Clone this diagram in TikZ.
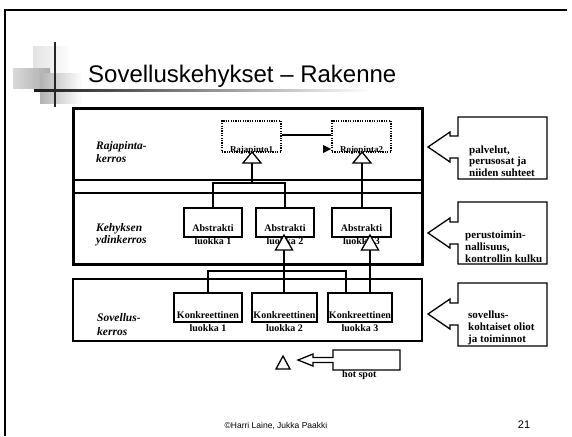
\documentclass[tikz,border=0pt]{standalone}
\usepackage{fontspec}
\setmainfont{Liberation Serif}
\newfontfamily\titlefont{Liberation Sans}
\begin{document}
\begin{tikzpicture}[x=1pt,y=-1pt,
  cls/.style={draw, line width=1.3pt, inner sep=0},
  iface/.style={draw, line width=1.3pt, dash pattern=on 1.2pt off 1.2pt, inner sep=0},
  conn/.style={line width=1.3pt},
  tri/.style={line width=1.3pt, fill=white},
  lbl/.style={font=\bfseries\fontsize{10}{12}\selectfont, inner sep=0, anchor=base},
  smalllbl/.style={font=\bfseries\fontsize{9}{11}\selectfont, inner sep=0, anchor=base},
  layer/.style={font=\bfseries\itshape\fontsize{11.5}{13}\selectfont, inner sep=0, anchor=base west},
  note/.style={font=\bfseries\fontsize{11}{12}\selectfont, inner sep=0, anchor=base west},
  callout/.style={draw, line width=1.3pt, fill=white},
  frame/.style={line width=1.2pt}]
\useasboundingbox (0,0) rectangle (572,436);
% slide frame
\draw[frame] (5,436) -- (5,10) -- (567,10);
% title decoration
\shade[left color=gray!22, right color=white] (33,47) rectangle (72,75);
\shade[left color=gray!30, right color=gray!65] (13,68) rectangle (50,88);
\shade[left color=gray!60, right color=white] (40,73) rectangle (82,103);
\draw[line width=2pt, black!85] (55,42) -- (55,107);
\shade[left color=black!90, middle color=gray!70, right color=white] (34,89) rectangle (370,91.5);
\node[font=\titlefont\fontsize{24}{28}\selectfont, anchor=base west, inner sep=0] (title) at (88,82) {Sovelluskehykset – Rakenne};
% layers
\draw[line width=3pt] (73,108) rectangle (422,264);
\draw[line width=1.2pt] (73,180) -- (422,180);
\draw[line width=1.2pt] (73,193) -- (422,193);
\draw[line width=1.8pt] (73,279) rectangle (422,341);
\node[layer] (l1a) at (96,149) {Rajapinta-};
\node[layer] (l1b) at (96,162) {kerros};
\node[layer] (l2a) at (96,231) {Kehyksen};
\node[layer] (l2b) at (96,243) {ydinkerros};
\node[layer] (l3a) at (97,321) {Sovellus-};
\node[layer] (l3b) at (97,335) {kerros};
% interfaces
\node[iface, minimum width=59, minimum height=31] (r1) at (251.5,136.5) {};
\node[iface, minimum width=59, minimum height=31] (r2) at (361.5,136.5) {};
\node[smalllbl] (r1t) at (251.5,152) {Rajapinto1};
\node[smalllbl] (r2t) at (361.5,152) {Rojopinta2};
\draw[conn] (r1.east |- 0,135) -- (r2.west |- 0,135);
\fill (323,145) -- (331,149) -- (323,153) -- cycle;
% abstract classes
\node[cls, minimum width=58, minimum height=29] (a1) at (213,222.5) {};
\node[cls, minimum width=58, minimum height=29] (a2) at (285,222.5) {};
\node[cls, minimum width=59, minimum height=29] (a3) at (361.5,222.5) {};
\node[lbl] at (213,231) {Abstrakti};
\node[lbl] at (213,244) {luokka 1};
\node[lbl] at (285,231) {Abstrakti};
\node[lbl] at (285,244) {luokka 2};
\node[lbl] at (361.5,231) {Abstrakti};
\node[lbl] at (361.5,244) {luokka 3};
% concrete classes
\node[cls, minimum width=68, minimum height=29] (k1) at (208,307.5) {};
\node[cls, minimum width=65, minimum height=29] (k2) at (284.5,307.5) {};
\node[cls, minimum width=64, minimum height=29] (k3) at (360,307.5) {};
\node[lbl] at (208,318) {Konkreettinen};
\node[lbl] at (208,331) {luokka 1};
\node[lbl] at (284.5,318) {Konkreettinen};
\node[lbl] at (284.5,331) {luokka 2};
\node[lbl] at (360,318) {Konkreettinen};
\node[lbl] at (360,331) {luokka 3};
% inheritance: interfaces <- abstract
\coordinate (b1) at (252,163);
\coordinate (b2) at (362,163);
\coordinate (j1) at (252,183);
\draw[conn] (b1) -- (j1);
\draw[conn] (a1.north) -- (a1.north |- j1) -- (a2.north |- j1) -- (a2.north);
\draw[conn] (b2) -- (a3.north -| b2);
\draw[tri] (252,152) -- (261,163) -- (243,163) -- cycle;
\draw[tri] (362,152) -- (371,163) -- (353,163) -- cycle;
% inheritance: abstract <- concrete
\coordinate (c2) at (284,250);
\coordinate (c3) at (370,250);
\coordinate (j2) at (284,271);
\draw[conn] (c2) -- (k2.north -| c2);
\draw[conn] (k1.north) -- (k1.north |- j2) -- (346,271) -- (k3.north -| 346,0);
\draw[conn] (c3) -- (k3.north -| c3);
\draw[tri] (284,235) -- (292.5,250) -- (275.5,250) -- cycle;
\draw[tri] (370,235) -- (378.5,250) -- (361.5,250) -- cycle;
% hot spot
\draw[tri] (283,356) -- (290,369) -- (276,369) -- cycle;
\draw[callout] (400,350) -- (333,350) -- (333,357.5) -- (313,357.5) -- (313,354) -- (298,360) -- (313,366) -- (313,362.5) -- (333,362.5) -- (333,370) -- (400,370) -- cycle;
\node[note, font=\bfseries\fontsize{10}{11}\selectfont] (hs) at (342,377) {hot spot};
% callouts
\newcommand\mycallout[3]{%
  \draw[callout] (547,#1) -- (458,#1) -- (458,#3-11) -- (450,#3-11) -- (450,#3-15) -- (428,#3) -- (450,#3+15) -- (450,#3+11) -- (458,#3+11) -- (458,#2) -- (547,#2) -- cycle;}
\mycallout{117}{179}{147}
\mycallout{202}{264}{233}
\mycallout{283}{346}{314}
\node[note] (n1a) at (469,153) {palvelut,};
\node[note] (n1b) at (469,164.5) {perusosat ja};
\node[note] (n1c) at (469,176) {niiden suhteet};
\node[note] (n2a) at (465,238) {perustoimin-};
\node[note] (n2b) at (465,250) {nallisuus,};
\node[note] (n2c) at (465,262) {kontrollin kulku};
\node[note] (n3a) at (468,318) {sovellus-};
\node[note] (n3b) at (468,330) {kohtaiset oliot};
\node[note] (n3c) at (468,342) {ja toiminnot};
% footer
\node[font=\titlefont\fontsize{8.5}{10}\selectfont, anchor=base, inner sep=0] (foot) at (276,428) {©Harri Laine, Jukka Paakki};
\node[font=\titlefont\fontsize{11}{13}\selectfont, anchor=base, inner sep=0] (page) at (524,428) {21};
\end{tikzpicture}
\end{document}
